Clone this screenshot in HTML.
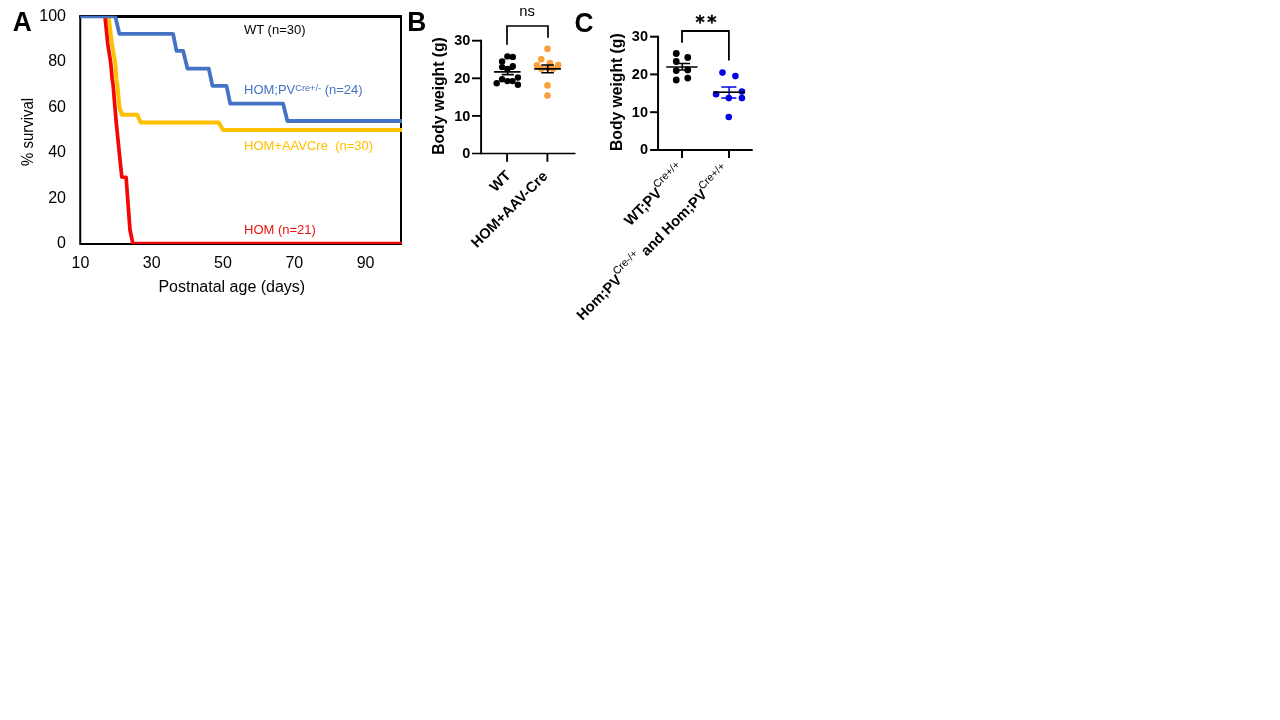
<!DOCTYPE html>
<html lang="en"><head><meta charset="utf-8"><title>Figure</title>
<style>html,body{margin:0;padding:0;background:#fff;overflow:hidden}svg{display:block}</style>
</head><body>
<svg width="1280" height="720" viewBox="0 0 1280 720">
<rect width="1280" height="720" fill="#fff"/>
<defs><clipPath id="clipA"><rect x="79" y="15.8" width="323" height="228.3"/></clipPath></defs>
<g id="panelA" font-family="Liberation Sans, Arial, sans-serif" fill="#000">
<rect x="80.25" y="16.5" width="320.75" height="227.5" fill="none" stroke="#000" stroke-width="2"/>
<line x1="79.25" y1="16.5" x2="402" y2="16.5" stroke="#000" stroke-width="3"/>
<polyline points="108.50,16.50 112.00,44.00 115.25,63.00 116.50,80.00 117.25,84.00 119.50,107.50 122.00,114.75 137.30,114.75 140.60,122.50 218.75,122.50 223.10,129.90 402.00,129.90" fill="none" stroke="#FFC000" stroke-width="4.0" stroke-linejoin="round" clip-path="url(#clipA)"/>
<polyline points="105.00,16.50 107.75,44.00 110.75,63.00 112.25,80.00 113.00,84.00 116.00,120.00 119.00,150.00 121.80,177.00 126.10,177.30 130.00,230.00 132.90,243.60 402.00,243.60" fill="none" stroke="#F50606" stroke-width="3.7" stroke-linejoin="round" clip-path="url(#clipA)"/>
<polyline points="80.25,16.40 115.25,16.40 119.40,33.90 173.10,33.90 176.50,50.90 183.10,50.90 187.50,68.60 208.75,68.60 212.50,85.90 226.50,85.90 230.20,103.60 283.10,103.60 287.40,121.00 402.00,121.00" fill="none" stroke="#4472C4" stroke-width="3.8" stroke-linejoin="round" clip-path="url(#clipA)"/>
<text x="12.8" y="31" font-size="28.5" font-weight="700" textLength="19" lengthAdjust="spacingAndGlyphs">A</text>
<text x="66" y="248.3" font-size="16" text-anchor="end">0</text>
<text x="66" y="202.8" font-size="16" text-anchor="end">20</text>
<text x="66" y="157.3" font-size="16" text-anchor="end">40</text>
<text x="66" y="111.8" font-size="16" text-anchor="end">60</text>
<text x="66" y="66.3" font-size="16" text-anchor="end">80</text>
<text x="66" y="20.8" font-size="16" text-anchor="end">100</text>
<text x="80.5" y="268" font-size="16" text-anchor="middle">10</text>
<text x="151.7" y="268" font-size="16" text-anchor="middle">30</text>
<text x="223.0" y="268" font-size="16" text-anchor="middle">50</text>
<text x="294.3" y="268" font-size="16" text-anchor="middle">70</text>
<text x="365.6" y="268" font-size="16" text-anchor="middle">90</text>
<text x="231.8" y="291.5" font-size="16" text-anchor="middle">Postnatal age (days)</text>
<text transform="translate(32.7,131.9) rotate(-90) scale(0.935,1)" font-size="16" text-anchor="middle">% survival</text>
<text x="244" y="33.8" font-size="13">WT (n=30)</text>
<text x="244" y="94.4" font-size="13" fill="#4472C4">HOM;PV<tspan font-size="9.2" dy="-3.5">Cre+/-</tspan><tspan dy="3.5"> (n=24)</tspan></text>
<text x="244" y="149.8" font-size="13" fill="#FFC000" xml:space="preserve">HOM+AAVCre  (n=30)</text>
<text x="244" y="233.5" font-size="13" fill="#EC1010">HOM (n=21)</text>
</g>
<g id="panelB" font-family="Liberation Sans, Arial, sans-serif" fill="#000" font-weight="700">
<text x="407.2" y="30.9" font-size="28.5" textLength="19" lengthAdjust="spacingAndGlyphs">B</text>
<path d="M481.1 39.8 V154.2 M507.1 153.5 V161.8 M547.4 153.5 V161.8" stroke="#000" stroke-width="1.9" fill="none"/>
<path d="M472 153.5 H575.5" stroke="#000" stroke-width="1.45" fill="none"/>
<text x="470.3" y="158.1" font-size="14.5" text-anchor="end">0</text>
<line x1="472" y1="115.9" x2="481.1" y2="115.9" stroke="#000" stroke-width="1.9"/>
<text x="470.3" y="120.5" font-size="14.5" text-anchor="end">10</text>
<line x1="472" y1="78.3" x2="481.1" y2="78.3" stroke="#000" stroke-width="1.9"/>
<text x="470.3" y="82.9" font-size="14.5" text-anchor="end">20</text>
<line x1="472" y1="40.7" x2="481.1" y2="40.7" stroke="#000" stroke-width="1.9"/>
<text x="470.3" y="45.3" font-size="14.5" text-anchor="end">30</text>
<text transform="translate(444.3,96) rotate(-90)" font-size="15.7" text-anchor="middle">Body weight (g)</text>
<path d="M507 44.7 V26 H548 V37.7" stroke="#000" stroke-width="1.7" fill="none"/>
<text x="527" y="15.8" font-size="14.8" font-weight="400" text-anchor="middle">ns</text>
<circle cx="507.4" cy="56.4" r="3.2"/>
<circle cx="512.8" cy="56.9" r="3.2"/>
<circle cx="502.1" cy="61.4" r="3.2"/>
<circle cx="512.8" cy="66.2" r="3.2"/>
<circle cx="502.1" cy="67.1" r="3.2"/>
<circle cx="507.4" cy="68.9" r="3.2"/>
<circle cx="517.9" cy="77.5" r="3.2"/>
<circle cx="502.1" cy="79.3" r="3.2"/>
<circle cx="507.4" cy="81.1" r="3.2"/>
<circle cx="512.5" cy="81.1" r="3.2"/>
<circle cx="496.7" cy="83.3" r="3.2"/>
<circle cx="517.9" cy="84.7" r="3.2"/>
<path d="M494 71.9 H520.6 M501.7 69.2 H513.9 M501.7 74.6 H513.9 M507.6 69.2 V74.6" stroke="#000" stroke-width="1.7" fill="none"/>
<circle cx="547.5" cy="48.9" r="3.3" fill="#FA9F3C"/>
<circle cx="541.25" cy="59.25" r="3.3" fill="#FA9F3C"/>
<circle cx="549.85" cy="63" r="3.3" fill="#FA9F3C"/>
<circle cx="537" cy="65.25" r="3.3" fill="#FA9F3C"/>
<circle cx="558.25" cy="65" r="3.3" fill="#FA9F3C"/>
<circle cx="541.5" cy="68.8" r="3.3" fill="#FA9F3C"/>
<circle cx="553" cy="68.8" r="3.3" fill="#FA9F3C"/>
<circle cx="547.5" cy="68" r="3.3" fill="#FA9F3C"/>
<circle cx="547.5" cy="85.4" r="3.3" fill="#FA9F3C"/>
<circle cx="547.5" cy="95.5" r="3.3" fill="#FA9F3C"/>
<path d="M534.25 68.9 H560.9 M541.25 65 H553.9 M541.25 72.75 H553.9 M547.75 65 V72.75" stroke="#000" stroke-width="1.7" fill="none"/>
<text transform="translate(511.5,176.4) rotate(-45)" font-size="14.6" text-anchor="end">WT</text>
<text transform="translate(548.5,177) rotate(-45)" font-size="14.65" text-anchor="end">HOM+AAV-Cre</text>
</g>
<g id="panelC" font-family="Liberation Sans, Arial, sans-serif" fill="#000" font-weight="700">
<text x="574.5" y="31.7" font-size="28.5" textLength="19" lengthAdjust="spacingAndGlyphs">C</text>
<path d="M658.05 35.8 V150.9 M650.1 149.9 H752.7 M682 149.9 V157.9 M729 149.9 V157.9" stroke="#000" stroke-width="2" fill="none"/>
<text x="648" y="154.3" font-size="14.5" text-anchor="end">0</text>
<line x1="650.1" y1="112.2" x2="658.05" y2="112.2" stroke="#000" stroke-width="2"/>
<text x="648" y="116.6" font-size="14.5" text-anchor="end">10</text>
<line x1="650.1" y1="74.4" x2="658.05" y2="74.4" stroke="#000" stroke-width="2"/>
<text x="648" y="78.8" font-size="14.5" text-anchor="end">20</text>
<line x1="650.1" y1="36.7" x2="658.05" y2="36.7" stroke="#000" stroke-width="2"/>
<text x="648" y="41.1" font-size="14.5" text-anchor="end">30</text>
<text transform="translate(622,92.2) rotate(-90)" font-size="15.7" text-anchor="middle">Body weight (g)</text>
<path d="M682 42.8 V31 H728.9 V60.6" stroke="#000" stroke-width="1.8" fill="none"/>
<text x="695.4" y="27.5" font-size="17.6" font-family="DejaVu Sans, sans-serif" font-weight="700" letter-spacing="2.6" stroke="#000" stroke-width="0.45">**</text>
<circle cx="676.25" cy="53.5" r="3.4"/>
<circle cx="687.75" cy="57.5" r="3.4"/>
<circle cx="676.25" cy="61.5" r="3.4"/>
<circle cx="676.25" cy="70.6" r="3.4"/>
<circle cx="687.75" cy="70" r="3.4"/>
<circle cx="687.75" cy="78.1" r="3.4"/>
<circle cx="676.25" cy="80" r="3.4"/>
<path d="M666.25 66.9 H697.5 M675 63.4 H690 M675 70 H690 M682.3 63.4 V70" stroke="#000" stroke-width="1.5" fill="none"/>
<circle cx="722.5" cy="72.6" r="3.3" fill="#0505E0"/>
<circle cx="735.4" cy="76.1" r="3.3" fill="#0505E0"/>
<circle cx="741.9" cy="91.6" r="3.3" fill="#0505E0"/>
<circle cx="716.1" cy="94.2" r="3.3" fill="#0505E0"/>
<circle cx="741.9" cy="98.1" r="3.3" fill="#0505E0"/>
<circle cx="728.8" cy="98.1" r="3.3" fill="#0505E0"/>
<circle cx="728.8" cy="117" r="3.3" fill="#0505E0"/>
<path d="M721.3 87 H736.4 M721.3 98.1 H736.4 M729.1 87 V98.1" stroke="#0505E0" stroke-width="1.5" fill="none"/>
<path d="M713.2 92.2 H744.7" stroke="#000" stroke-width="1.6" fill="none"/>
<text transform="translate(685.9,170.9) rotate(-45)" font-size="14.8" text-anchor="end">WT;PV<tspan font-size="10.7" font-weight="400" dy="-7.8">Cre+/+</tspan></text>
<text transform="translate(731.1,172.3) rotate(-45)" font-size="14.6" text-anchor="end">Hom;PV<tspan font-size="10.7" font-weight="400" dy="-7.8">Cre-/+</tspan><tspan dy="7.8"> and Hom;PV</tspan><tspan font-size="10.7" font-weight="400" dy="-7.8">Cre+/+</tspan></text>
</g>
</svg>
</body></html>
